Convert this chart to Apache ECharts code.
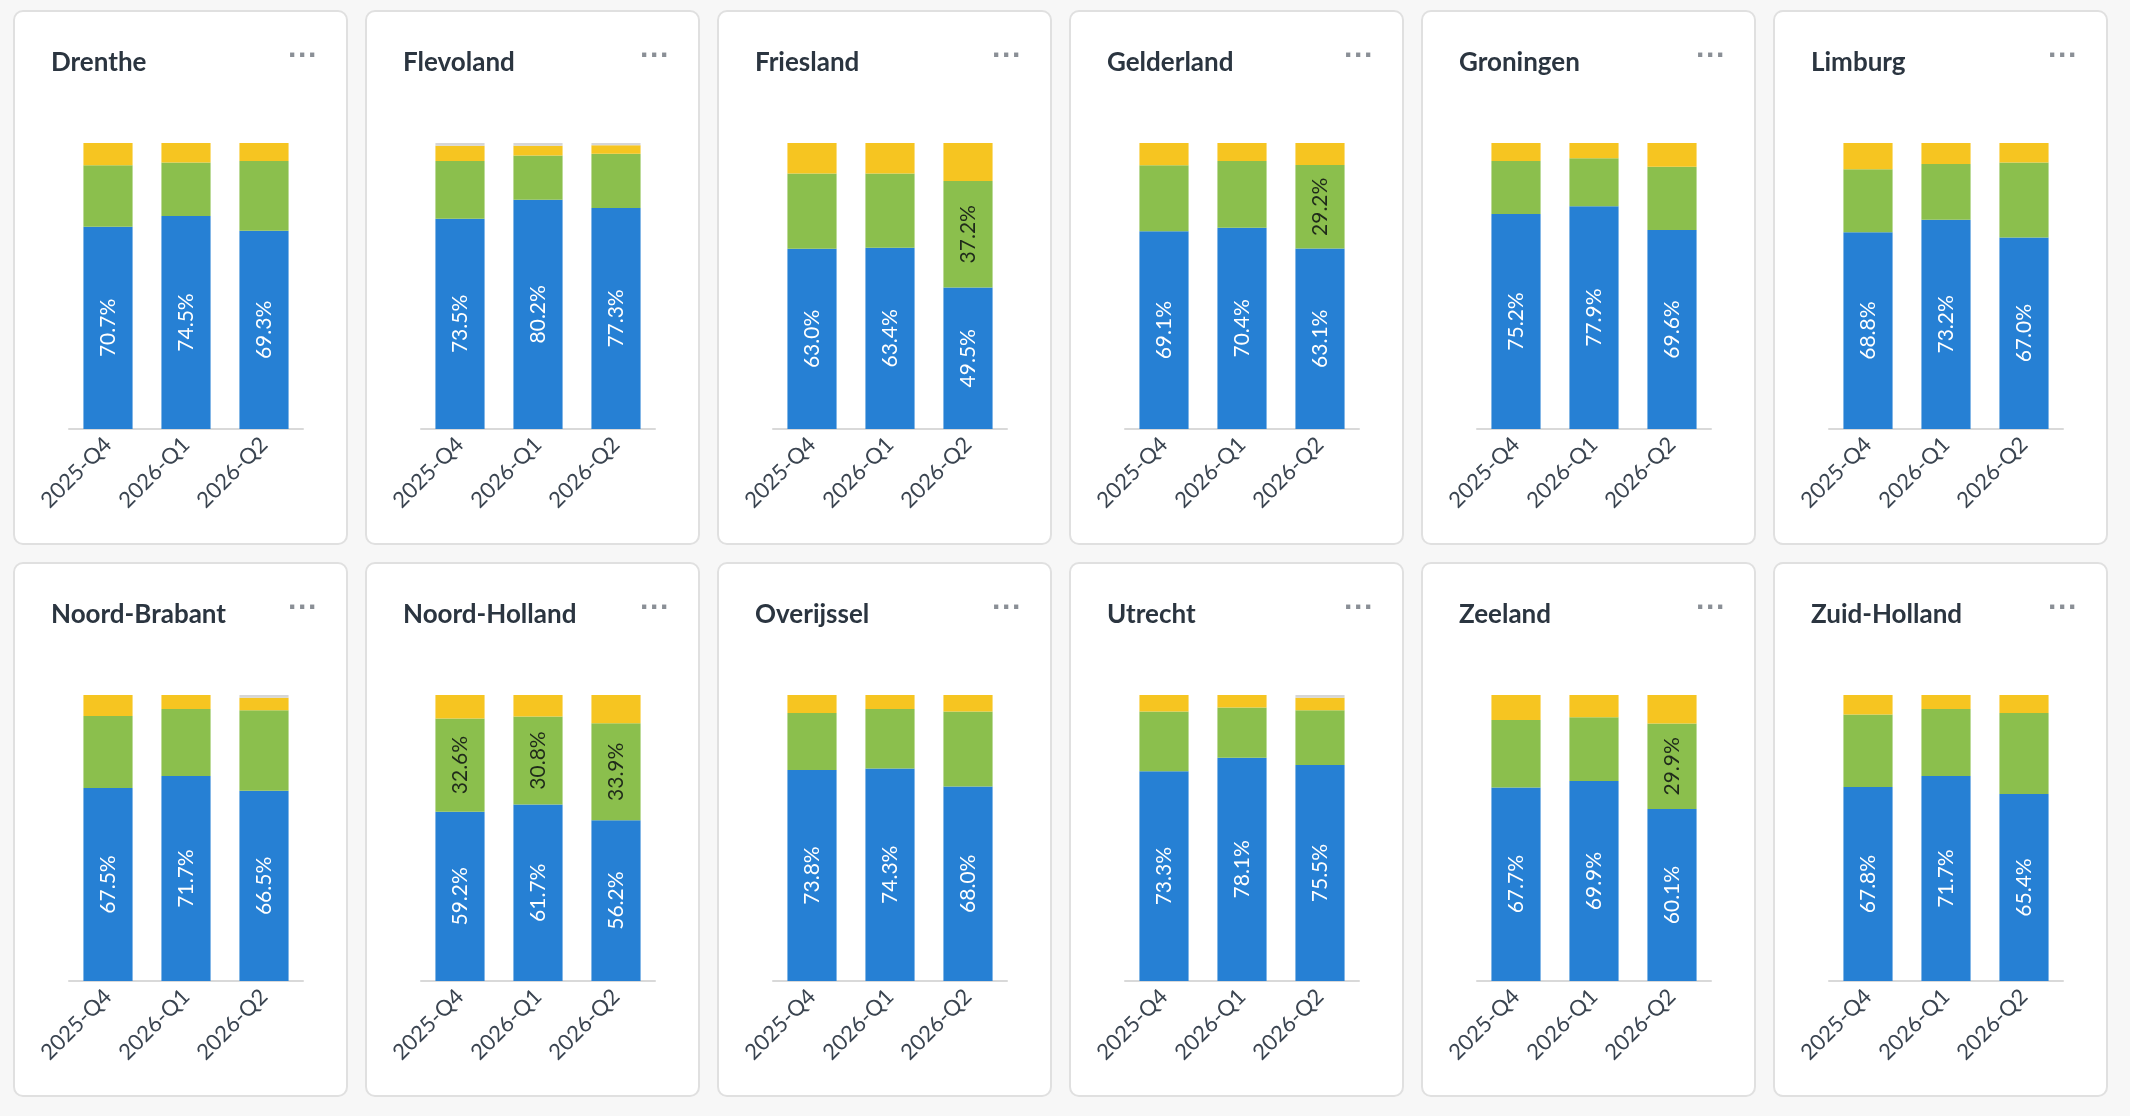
<!DOCTYPE html>
<html>
<head>
<meta charset="utf-8">
<script src="https://cdn.jsdelivr.net/npm/echarts@6/dist/echarts.min.js"></script>
<style>
  body { margin: 0; background: #f7f7f7; font-family: Lato, sans-serif; }
  #wrap { position: relative; width: 2130px; height: 1116px; }
  .card {
    position: absolute; width: 335px; height: 535px; background: #fff;
    border: 2px solid #e0e0e0; border-radius: 10px; box-sizing: border-box;
  }
</style>
</head>
<body>
<div id="wrap"></div>
<script>
const quarters = ["2025-Q4", "2026-Q1", "2026-Q2"];
const provinces = ["Drenthe", "Flevoland", "Friesland", "Gelderland", "Groningen", "Limburg",
  "Noord-Brabant", "Noord-Holland", "Overijssel", "Utrecht", "Zeeland", "Zuid-Holland"];
const bluePct = [
  [70.7, 74.5, 69.3], [73.5, 80.2, 77.3], [63.0, 63.4, 49.5], [69.1, 70.4, 63.1],
  [75.2, 77.9, 69.6], [68.8, 73.2, 67.0], [67.5, 71.7, 66.5], [59.2, 61.7, 56.2],
  [73.8, 74.3, 68.0], [73.3, 78.1, 75.5], [67.7, 69.9, 60.1], [67.8, 71.7, 65.4]
];
const greenPct = [
  [21.5, 18.7, 24.4], [20.2, 15.4, 18.9], [26.3, 25.9, 37.2], [23.1, 23.3, 29.2],
  [18.5, 16.8, 22.1], [22.0, 19.5, 26.2], [25.2, 23.4, 28.2], [32.6, 30.8, 33.9],
  [19.9, 20.8, 26.2], [20.9, 17.5, 19.2], [23.6, 22.3, 29.9], [25.4, 23.4, 28.3]
];
const yellowPct = [
  [7.8, 6.8, 6.3], [5.3, 3.4, 3.0], [10.7, 10.7, 13.3], [7.8, 6.3, 7.7],
  [6.3, 5.3, 8.3], [9.2, 7.3, 6.8], [7.3, 4.9, 4.3], [8.2, 7.5, 9.9],
  [6.3, 4.9, 5.8], [5.8, 4.4, 4.3], [8.7, 7.8, 10.0], [6.8, 4.9, 6.3]
];
const greyPct = [
  [0, 0, 0], [1.0, 1.0, 0.8], [0, 0, 0], [0, 0, 0],
  [0, 0, 0], [0, 0, 0], [0, 0, 1.0], [0, 0, 0],
  [0, 0, 0], [0, 0, 1.0], [0, 0, 0], [0, 0, 0]
];

const wrap = document.getElementById("wrap");

provinces.forEach((name, i) => {
  const col = i % 6, row = Math.floor(i / 6);
  const card = document.createElement("div");
  card.className = "card";
  card.style.left = (13 + col * 352) + "px";
  card.style.top = (10 + row * 552) + "px";
  wrap.appendChild(card);

  const chart = echarts.init(card);
  const seg = (sname, data, color, labelColor, minShow) => ({
    name: sname, type: "bar", stack: "total", barWidth: "63%", data,
    itemStyle: { color },
    label: {
      show: true, position: "inside", rotate: 90, color: labelColor,
      fontSize: 21, fontFamily: "Lato",
      formatter: (p) => (p.value >= minShow ? p.value.toFixed(1) + "%" : "")
    }
  });

  chart.setOption({
    animation: false,
    title: {
      text: name, left: 31, top: 33,
      textStyle: { fontFamily: "Lato", fontSize: 26, fontWeight: "bold", color: "#2b3540" }
    },
    graphic: [{
      type: "text", right: 28, top: 30,
      style: { text: "···", fontSize: 30, fill: "#8a8f96", fontWeight: "bold" }
    }],
    grid: { left: 54, right: 43, top: 131, bottom: 114 },
    xAxis: {
      type: "category", data: quarters,
      axisLine: { lineStyle: { color: "#d9d9d9", width: 2 } },
      axisTick: { show: false },
      axisLabel: { rotate: 45, fontSize: 22, color: "#3a4450", fontFamily: "Lato", margin: 12 }
    },
    yAxis: { type: "value", min: 0, max: 100, show: false },
    series: [
      seg("blue", bluePct[i], "#2680d4", "#fff", 0),
      seg("green", greenPct[i], "#8bbf4d", "#1f2a1a", 29),
      seg("yellow", yellowPct[i], "#f6c521", "#333", 101),
      seg("grey", greyPct[i], "#d6d6d6", "#333", 101)
    ]
  });
});
</script>
</body>
</html>
